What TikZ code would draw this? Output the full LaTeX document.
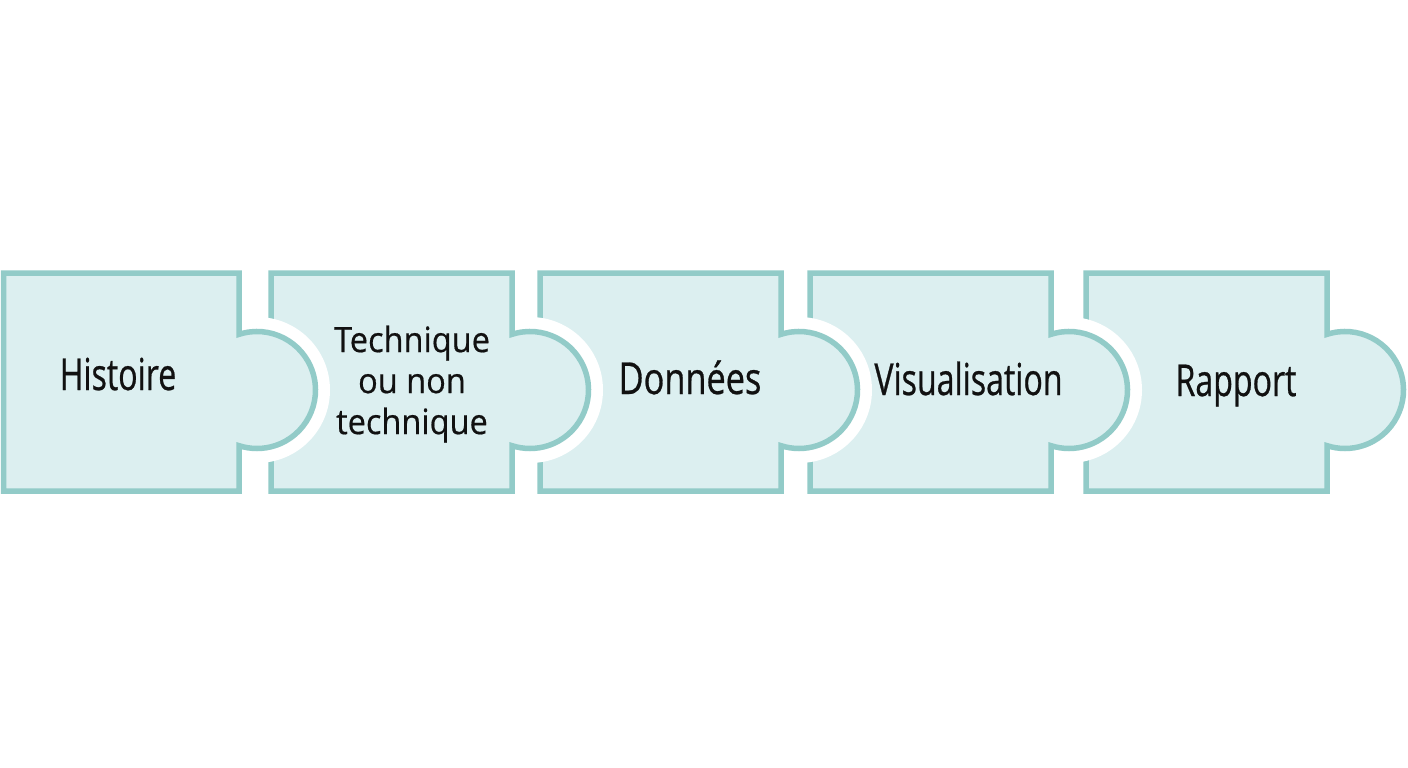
\documentclass[tikz,border=0pt]{standalone}
\usepackage{fontspec}
\newfontfamily\labfont{Open Sans}[FakeStretch=0.73,FakeBold=0.6]
\newfontfamily\labfontd{Open Sans}[FakeStretch=0.78,FakeBold=0.6]
\newfontfamily\labfontb{Open Sans}[FakeStretch=0.93,FakeBold=0.5]
\definecolor{pfill}{HTML}{DCEFF0}
\definecolor{pline}{HTML}{92CBC8}
\definecolor{ptext}{HTML}{111111}
\tikzset{
  piece/.style={fill=pfill, draw=pline, line width=5.5pt, line join=miter},
  halo/.style={fill=white},
  lab/.style={text=ptext, inner sep=0pt, font=\labfont\fontsize{44}{48}\selectfont},
  labd/.style={text=ptext, inner sep=0pt, font=\labfontd\fontsize{44}{48}\selectfont},
  labsmall/.style={text=ptext, inner sep=0pt, align=center, font=\labfontb\fontsize{35}{41}\selectfont},
}
\begin{document}
\begin{tikzpicture}[x=1pt,y=1pt,yscale=-1]
\useasboundingbox[fill=white] (0,0) rectangle (1408,768);
\foreach \L/\R in {1086/1327, 810/1051, 540/781, 271/512, 3.5/239} {
  \fill[halo] (\R+18,390) circle[radius=73];
  \path[piece] (\L,273) -- (\R,273) -- (\R,334.34)
     arc[start angle=-107.92, end angle=107.92, radius=58.5]
     -- (\R,491) -- (\L,491) -- cycle;
}
\node[lab, anchor=base] (histoire) at (118,390) {Histoire};
\node[labsmall, anchor=center] (technique) at (412,384) {Technique\\ou non\\technique};
\node[labd, anchor=base] (donnees) at (690,394) {Données};
\node[lab, anchor=base] (visu) at (968.5,395) {Visualisation};
\node[lab, anchor=base] (rapport) at (1236,396) {Rapport};
\end{tikzpicture}
\end{document}
